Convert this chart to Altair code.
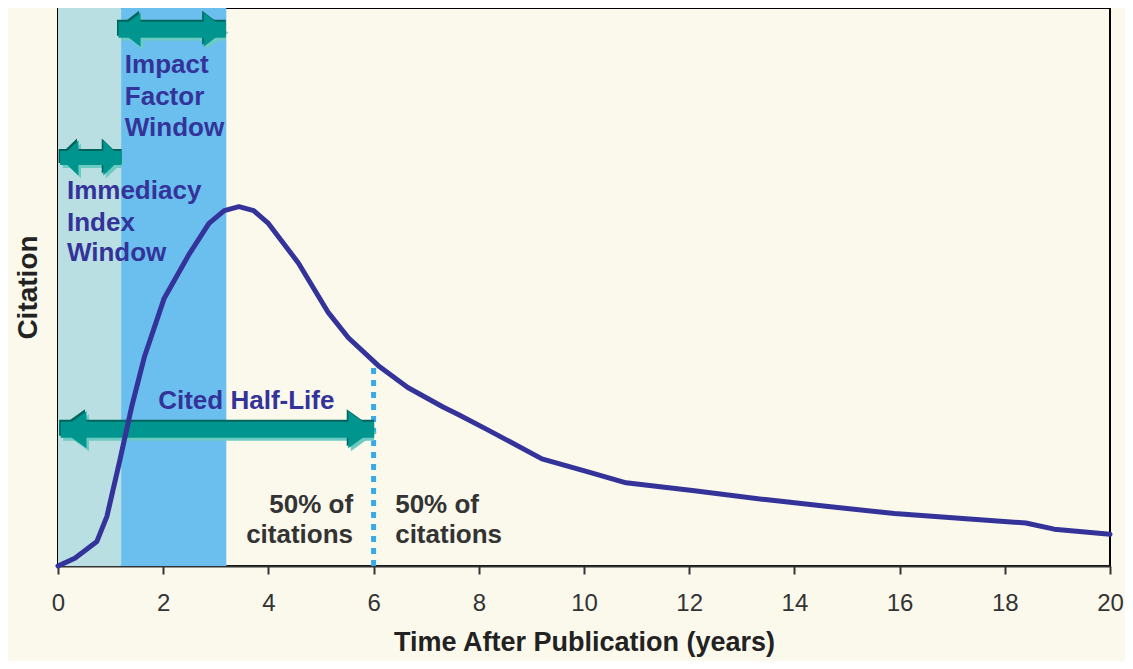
import altair as alt
import pandas as pd

# ---- data ----
curve_x = [0, 0.32, 0.74, 0.93, 1.17, 1.4, 1.64, 2.02, 2.5, 2.87, 3.16, 3.44, 3.72, 4.0,
           4.57, 5.14, 5.52, 6.09, 6.65, 7.32, 7.6, 8.17, 9.2, 10.06, 10.8, 12.1, 13.45,
           14.6, 15.9, 17.2, 18.4, 18.94, 20]
curve_y = [0, 1.4, 4.4, 8.9, 18.7, 28.5, 37.4, 48, 56, 61.4, 63.7, 64.4, 63.7, 61.4,
           54.3, 45.4, 40.9, 35.9, 32, 28.5, 27.2, 24.4, 19.2, 16.9, 14.9, 13.5, 11.9,
           10.7, 9.4, 8.5, 7.7, 6.6, 5.7]

band_start = [0, 1.2]
band_end = [1.2, 3.2]
band_color = ["#B9DFE2", "#6BBFEE"]

half_life = 6.0
half_life_citation = 36.0

arrow_names = ["Immediacy", "Impact", "Cited"]
arrow_x1 = [0.04, 1.15, 0.05]
arrow_x2 = [1.21, 3.19, 6.01]
arrow_y = [73.1, 96.1, 24.4]
arrow_shaft = [14, 16, 16]
arrow_head = [35, 34, 37]
arrow_head_ratio = [1.05, 1.3, 1.4]

blue_text = ["Impact", "Factor", "Window", "Immediacy", "Index", "Window"]
blue_text_x = [1.27, 1.27, 1.27, 0.17, 0.17, 0.17]
blue_text_y = [88.4, 82.6, 77.0, 65.8, 60.1, 54.6]

center_text = ["Cited Half-Life"]
center_text_x = [3.58]
center_text_y = [28.1]

left_pct_text = ["50% of", "citations"]
left_pct_x = [5.61, 5.61]
left_pct_y = [9.43, 4.09]

right_pct_text = ["50% of", "citations"]
right_pct_x = [6.41, 6.41]
right_pct_y = [9.43, 4.09]

x_ticks = [0, 2, 4, 6, 8, 10, 12, 14, 16, 18, 20]

W, H = 1052, 558
BG = "#FBF9EC"
TEAL = "#00968F"
TEAL_DARK = "#00635E"
TEAL_LIGHT = "#6CCBC3"
NAVY = "#333399"
FONT = "Liberation Sans"

xs = alt.Scale(domain=[0, 20], nice=False, zero=False)
ys = alt.Scale(domain=[0, 100], nice=False, zero=False)

curve_df = pd.DataFrame({"x": curve_x, "y": curve_y})
band_df = pd.DataFrame({"x": band_start, "x2": band_end, "c": band_color})

bands = alt.Chart(band_df).mark_rect().encode(
    x=alt.X("x:Q", scale=xs,
            axis=alt.Axis(values=x_ticks, title="Time After Publication (years)",
                          grid=False, tickSize=8, tickWidth=2, tickColor="#333333",
                          domainColor="#333333", domainWidth=2,
                          labelFontSize=24, labelColor="#333333", labelFont=FONT,
                          labelPadding=17, titleFontSize=27, titleFont=FONT,
                          titleFontWeight="bold", titleColor="#222222", titlePadding=14,
                          labelFlush=False)),
    x2="x2:Q",
    y=alt.value(0),
    y2=alt.value(H),
    color=alt.Color("c:N", scale=None),
)

curve = alt.Chart(curve_df).mark_line(color=NAVY, strokeWidth=5, interpolate="linear",
                                       strokeCap="round", strokeJoin="round").encode(
    x=alt.X("x:Q", scale=xs),
    y=alt.Y("y:Q", scale=ys,
            axis=alt.Axis(title="Citation", labels=False, ticks=False, domain=False,
                          grid=False, titleFontSize=28, titleFont=FONT,
                          titleFontWeight="bold", titleColor="#222222", titlePadding=16)),
)

hl_df = pd.DataFrame({"x": [half_life], "y": [0], "y2": [half_life_citation]})
halfline = alt.Chart(hl_df).mark_rule(color="#39A9E8", strokeWidth=5,
                                       strokeDash=[6, 6]).encode(
    x=alt.X("x:Q", scale=xs), y=alt.Y("y:Q", scale=ys), y2="y2:Q")

# arrows
shaft_df = pd.DataFrame({"name": arrow_names, "x1": arrow_x1, "x2": arrow_x2,
                         "y": arrow_y, "w": arrow_shaft})
head_rows = []
for n, a, b, yv, h, r in zip(arrow_names, arrow_x1, arrow_x2, arrow_y, arrow_head,
                             arrow_head_ratio):
    head_rows.append({"x": a, "y": yv, "size": h * h,
                      "shape": f"M 0 0 L {r} -1 L {r} 1 Z"})
    head_rows.append({"x": b, "y": yv, "size": h * h,
                      "shape": f"M 0 0 L {-r} -1 L {-r} 1 Z"})
head_df = pd.DataFrame(head_rows)


def arrow_layer(color, dx, dy):
    s = alt.Chart(shaft_df).mark_rule(color=color, strokeCap="butt",
                                      xOffset=dx, yOffset=dy).encode(
        x=alt.X("x1:Q", scale=xs), x2="x2:Q", y=alt.Y("y:Q", scale=ys),
        strokeWidth=alt.StrokeWidth("w:Q", scale=None))
    hd = alt.Chart(head_df).mark_point(filled=True, opacity=1, color=color,
                                       strokeWidth=0, xOffset=dx, yOffset=dy).encode(
        x=alt.X("x:Q", scale=xs), y=alt.Y("y:Q", scale=ys),
        shape=alt.Shape("shape:N", scale=None),
        size=alt.Size("size:Q", scale=None))
    return s + hd


arrows = arrow_layer(TEAL_LIGHT, 2.5, 3) + arrow_layer(TEAL_DARK, -1.5, -2) + \
    arrow_layer(TEAL, 0, 0)


def text_layer(texts, xv, yv, align, color):
    df = pd.DataFrame({"t": texts, "x": xv, "y": yv})
    return alt.Chart(df).mark_text(align=align, baseline="alphabetic", font=FONT,
                                   fontSize=26, fontWeight="bold", color=color).encode(
        x=alt.X("x:Q", scale=xs), y=alt.Y("y:Q", scale=ys), text="t:N")


texts = (text_layer(blue_text, blue_text_x, blue_text_y, "left", NAVY)
         + text_layer(center_text, center_text_x, center_text_y, "center", NAVY)
         + text_layer(left_pct_text, left_pct_x, left_pct_y, "right", "#333333")
         + text_layer(right_pct_text, right_pct_x, right_pct_y, "left", "#333333"))

chart = alt.layer(bands, halfline, arrows, texts, curve).properties(
    width=W, height=H,
    background=BG,
    autosize=alt.AutoSizeParams(type="none"),
    padding={"left": 50, "top": 0, "right": 15, "bottom": 95},
).configure_view(stroke="black", strokeWidth=2, fill=BG)

chart.save("out.html", embed_options={"renderer": "svg", "actions": False})
